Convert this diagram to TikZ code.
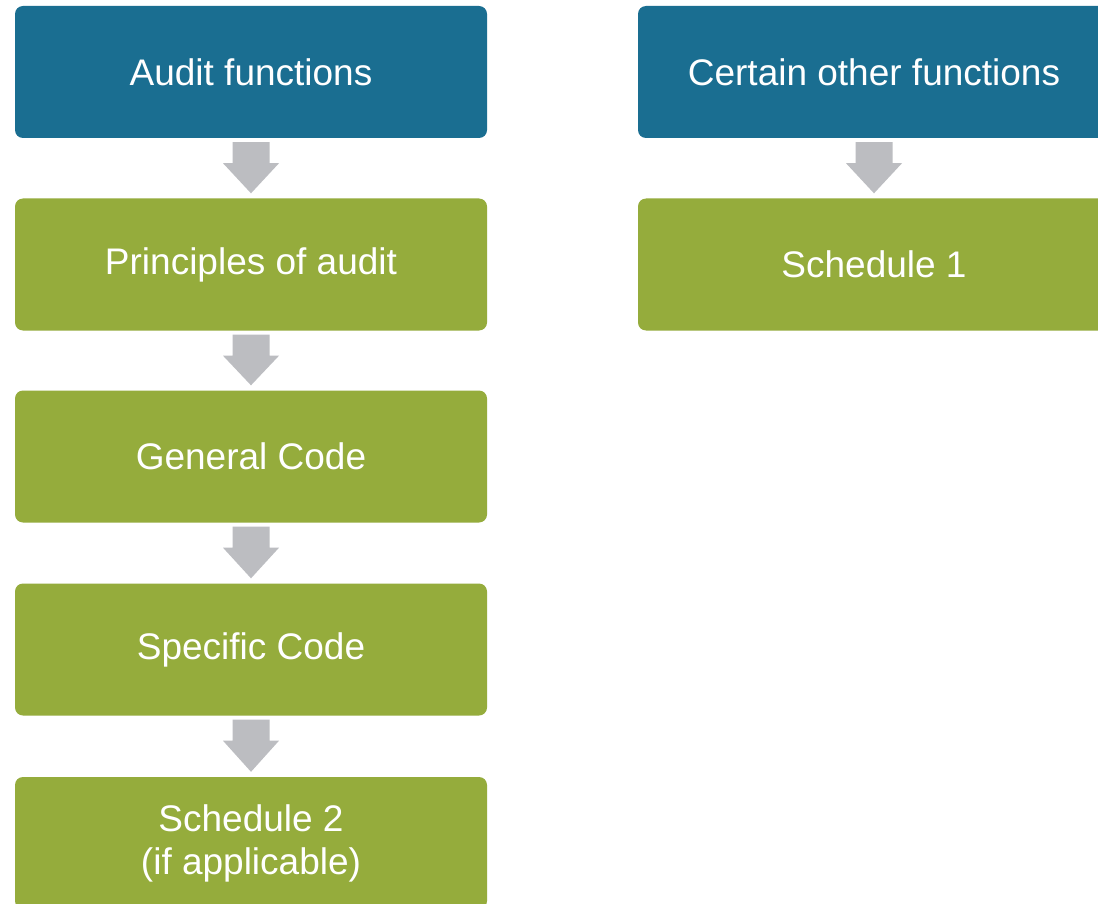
\documentclass[tikz,border=0pt]{standalone}
\usepackage{fontspec}
\setmainfont{Liberation Sans}
\usetikzlibrary{calc}
\definecolor{boxblue}{HTML}{1A6E91}
\definecolor{boxgreen}{HTML}{95AC3C}
\definecolor{arrowgray}{HTML}{BCBDC1}
\newcommand{\flowarrow}[2]{%
  \fill[arrowgray] ($(#1.south)+(-18.5,4)$) -- ($(#1.south)+(18.5,4)$) -- ($(#1.south)+(18.5,25)$) -- ($(#1.south)+(28,25)$) -- ($(#2.north)+(0,-5)$) -- ($(#1.south)+(-28,25)$) -- ($(#1.south)+(-18.5,25)$) -- cycle;}
\begin{document}
\begin{tikzpicture}[x=1pt,y=-1pt,
  flowbox/.style={rectangle, rounded corners=8pt, minimum width=472pt, minimum height=132pt, inner sep=0pt, text=white, align=center, font=\fontsize{37}{43}\selectfont},
  bluebox/.style={flowbox, fill=boxblue},
  greenbox/.style={flowbox, fill=boxgreen}]
\useasboundingbox[fill=white] (0,0) rectangle (1098,904);
\node[bluebox] (audit) at (251,72) {Audit functions};
\node[greenbox] (principles) at (251,264.5) {Principles of audit};
\node[greenbox] (general) at (251,456.5) {General Code};
\node[greenbox] (specific) at (251,649.5) {Specific Code};
\node[greenbox] (sched2) at (251,843) {Schedule 2\\(if applicable)};
\node[bluebox] (other) at (874,72) {Certain other functions};
\node[greenbox] (sched1) at (874,264.5) {Schedule 1};
\flowarrow{audit}{principles}
\flowarrow{principles}{general}
\flowarrow{general}{specific}
\flowarrow{specific}{sched2}
\flowarrow{other}{sched1}
\end{tikzpicture}
\end{document}
